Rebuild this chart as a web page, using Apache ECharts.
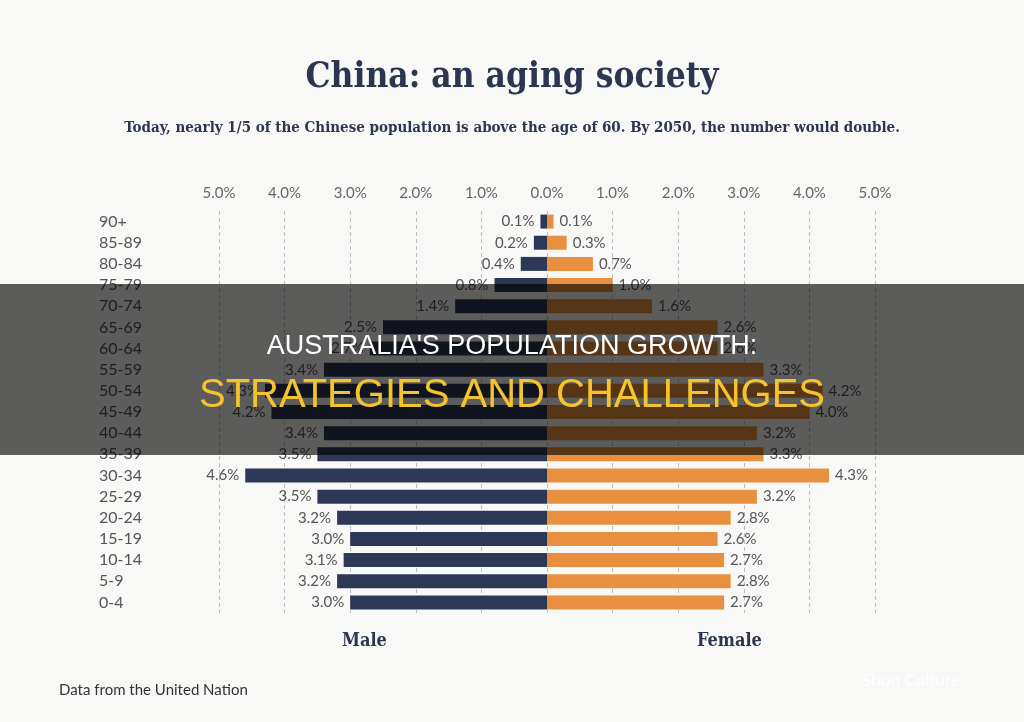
<!DOCTYPE html>
<html>
<head>
<meta charset="utf-8">
<script src="https://cdn.jsdelivr.net/npm/echarts@6/dist/echarts.min.js"></script>
<style>
  html, body { margin: 0; padding: 0; background: #f8f8f7; }
  #main { width: 1024px; height: 722px; }
</style>
</head>
<body>
<div id="main"></div>
<script>
// age groups, top to bottom
const ageGroups = ['90+', '85-89', '80-84', '75-79', '70-74', '65-69', '60-64', '55-59', '50-54',
  '45-49', '40-44', '35-39', '30-34', '25-29', '20-24', '15-19', '10-14', '5-9', '0-4'];
// share of total population, %
const maleShare = [0.1, 0.2, 0.4, 0.8, 1.4, 2.5, 2.7, 3.4, 4.3, 4.2, 3.4, 3.5, 4.6, 3.5, 3.2, 3.0, 3.1, 3.2, 3.0];
const femaleShare = [0.1, 0.3, 0.7, 1.0, 1.6, 2.6, 2.6, 3.3, 4.2, 4.0, 3.2, 3.3, 4.3, 3.2, 2.8, 2.6, 2.7, 2.8, 2.7];

const chart = echarts.init(document.getElementById('main'));

const serif = '"DejaVu Serif Condensed", "DejaVu Serif", serif';
const pct = v => Math.abs(v).toFixed(1) + '%';

const option = {
  backgroundColor: '#f8f8f7',
  animation: false,
  title: [
    {
      text: 'China: an aging society',
      left: 'center',
      top: 55,
      textStyle: { fontFamily: serif, fontSize: 35, fontWeight: 'bold', color: '#2d3650' }
    },
    {
      text: 'Today, nearly 1/5 of the Chinese population is above the age of 60. By 2050, the number would double.',
      left: 'center',
      top: 116,
      textStyle: { fontFamily: serif, fontSize: 15, fontWeight: 'bold', color: '#2d3650' }
    }
  ],
  grid: { left: 219, right: 149, top: 211, height: 402 },
  xAxis: {
    type: 'value',
    position: 'top',
    min: -5,
    max: 5,
    interval: 1,
    axisLine: { show: false },
    axisTick: { show: false },
    axisLabel: {
      formatter: pct,
      margin: 10,
      fontFamily: 'Lato',
      fontSize: 15,
      color: '#666'
    },
    splitLine: { show: true, lineStyle: { type: [4, 3], color: '#bdbdbd', width: 1 } }
  },
  yAxis: {
    type: 'category',
    data: ageGroups,
    inverse: true,
    axisLine: { show: false },
    axisTick: { show: false },
    axisLabel: {
      align: 'left',
      margin: 120,
      fontFamily: 'Lato',
      fontSize: 16,
      color: '#555'
    }
  },
  series: [
    {
      name: 'Male',
      type: 'bar',
      stack: 'pop',
      barWidth: 14,
      data: maleShare.map(v => -v),
      itemStyle: { color: '#2c3856' },
      label: {
        show: true,
        position: 'left',
        distance: 6,
        formatter: p => pct(p.value),
        fontFamily: 'Lato',
        fontSize: 15,
        color: '#555'
      }
    },
    {
      name: 'Female',
      type: 'bar',
      stack: 'pop',
      barWidth: 14,
      data: femaleShare,
      itemStyle: { color: '#e8903f' },
      label: {
        show: true,
        position: 'right',
        distance: 6,
        formatter: p => pct(p.value),
        fontFamily: 'Lato',
        fontSize: 15,
        color: '#555'
      }
    }
  ],
  graphic: [
    {
      type: 'text', left: 342, top: 632, z: 10,
      style: { text: 'Male', fontFamily: serif, fontSize: 18, fontWeight: 'bold', fill: '#2d3650' }
    },
    {
      type: 'text', left: 697, top: 632, z: 10,
      style: { text: 'Female', fontFamily: serif, fontSize: 18, fontWeight: 'bold', fill: '#2d3650' }
    },
    {
      type: 'text', left: 59, top: 683, z: 10,
      style: { text: 'Data from the United Nation', fontFamily: 'Lato', fontSize: 15, fill: '#333' }
    },
    {
      type: 'text', left: 862, top: 672, z: 10,
      style: { text: 'Shon Culture', fontFamily: 'Lato', fontSize: 17, fontWeight: 'bold', fill: 'rgba(255,255,255,0.85)' }
    },
    // dark banner across the chart
    {
      type: 'rect', left: 0, top: 284, z: 100,
      shape: { width: 1024, height: 171 },
      style: { fill: 'rgba(0,0,0,0.63)' }
    },
    {
      type: 'text', left: 'center', top: 333, z: 101,
      style: { text: "AUSTRALIA'S POPULATION GROWTH:", fontFamily: '"Liberation Sans", Arial, sans-serif', fontSize: 27, fill: '#ffffff' }
    },
    {
      type: 'text', left: 'center', top: 376, z: 101,
      style: { text: 'STRATEGIES AND CHALLENGES', fontFamily: '"Liberation Sans", Arial, sans-serif', fontSize: 40, fill: '#f5c32c' }
    }
  ]
};

chart.setOption(option);
</script>
</body>
</html>
